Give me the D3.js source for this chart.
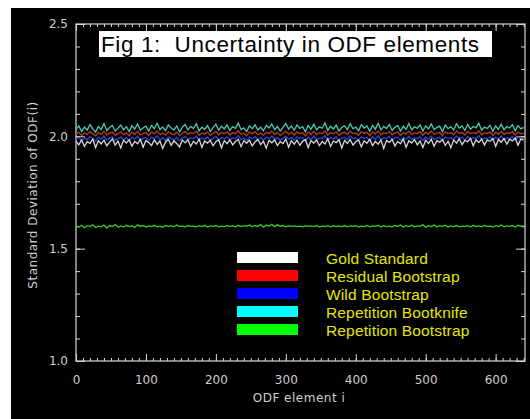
<!DOCTYPE html>
<html lang="en">
<head>
<meta charset="UTF-8" />
<title>Fig 1: Uncertainty in ODF elements</title>
<script src="https://d3js.org/d3.v7.min.js"></script>
<style>
  body { margin: 0; background: #fff; }
  svg { display: block; }
  .axis text { fill: #cfcfcf; font-family: "DejaVu Sans", sans-serif; font-size: 12px; }
  .axis line { stroke: #d8d8d8; }
  .axis path { display: none; }
  .series { fill: none; stroke-width: 1.3; }
</style>
</head>
<body>
<svg id="chart" width="530" height="419"></svg>
<script>
// ODF element index step between stored samples
const xStep = 4;

const goldStandard = [
  1.978,1.962,1.984,1.955,1.976,1.969,1.987,1.950,1.980,1.966,1.983,1.958,1.974,1.988,1.961,1.979,1.948,1.982,1.970,1.985,
  1.957,1.977,1.967,1.986,1.952,1.981,1.972,1.959,1.984,1.964,1.979,1.946,1.975,1.987,1.960,1.980,1.968,1.953,1.983,1.971,
  1.985,1.956,1.978,1.966,1.988,1.951,1.979,1.970,1.982,1.958,1.976,1.985,1.949,1.981,1.967,1.984,1.962,1.977,1.987,1.954,
  1.980,1.969,1.983,1.957,1.975,1.986,1.963,1.978,1.947,1.982,1.971,1.985,1.959,1.976,1.968,1.988,1.952,1.980,1.965,1.983,
  1.960,1.978,1.986,1.950,1.981,1.970,1.984,1.958,1.977,1.966,1.989,1.955,1.979,1.972,1.985,1.948,1.982,1.968,1.986,1.961,
  1.976,1.984,1.953,1.980,1.969,1.987,1.959,1.978,1.965,1.983,1.946,1.981,1.973,1.986,1.957,1.977,1.967,1.988,1.951,1.980,
  1.971,1.985,1.962,1.979,1.950,1.983,1.968,1.987,1.956,1.981,1.974,1.986,1.960,1.978,1.949,1.984,1.970,1.989,1.963,1.982,
  1.976,1.990,1.958,1.985,1.972,1.988,1.961,1.984,1.978,1.991,1.955,1.986,1.974,1.990,1.965,1.987,1.980,1.993,1.960,1.988,
  1.983
];
const residualBootstrap = [
  2.010,2.018,2.004,2.015,2.008,2.021,2.012,2.002,2.017,2.009,2.023,2.006,2.014,2.019,2.005,2.011,2.020,2.007,2.016,2.003,
  2.018,2.010,2.022,2.006,2.013,2.017,2.004,2.019,2.011,2.024,2.008,2.015,2.005,2.020,2.012,2.007,2.018,2.003,2.014,2.021,
  2.009,2.016,2.012,2.023,2.005,2.015,2.010,2.019,2.004,2.013,2.022,2.007,2.017,2.011,2.020,2.006,2.016,2.012,2.025,2.009,
  2.014,2.003,2.019,2.011,2.021,2.007,2.015,2.005,2.018,2.012,2.023,2.009,2.017,2.004,2.014,2.022,2.010,2.018,2.006,2.020,
  2.012,2.016,2.002,2.019,2.009,2.022,2.008,2.015,2.012,2.024,2.006,2.017,2.011,2.020,2.004,2.014,2.018,2.009,2.023,2.012,
  2.015,2.005,2.021,2.013,2.018,2.003,2.019,2.010,2.024,2.007,2.016,2.012,2.022,2.006,2.014,2.019,2.004,2.017,2.010,2.023,
  2.008,2.015,2.012,2.021,2.005,2.018,2.011,2.023,2.009,2.014,2.017,2.003,2.020,2.012,2.016,2.007,2.024,2.013,2.018,2.006,
  2.022,2.011,2.016,2.013,2.025,2.007,2.015,2.012,2.020,2.004,2.018,2.010,2.023,2.008,2.016,2.013,2.021,2.006,2.019,2.011,
  2.014
];
const wildBootstrap = [
  1.988,1.995,1.981,1.993,1.985,1.999,1.990,1.979,1.996,1.987,2.001,1.983,1.992,1.997,1.982,1.989,1.998,1.984,1.994,1.980,
  1.996,1.988,2.000,1.983,1.991,1.995,1.981,1.997,1.989,2.002,1.985,1.993,1.982,1.998,1.990,1.984,1.996,1.980,1.992,1.999,
  1.986,1.994,1.990,2.001,1.982,1.993,1.987,1.997,1.981,1.991,2.000,1.984,1.995,1.989,1.998,1.983,1.994,1.990,2.003,1.986,
  1.992,1.980,1.997,1.989,1.999,1.984,1.993,1.982,1.996,1.990,2.001,1.986,1.995,1.981,1.992,2.000,1.988,1.996,1.983,1.998,
  1.990,1.994,1.979,1.997,1.986,2.000,1.985,1.993,1.990,2.002,1.983,1.995,1.988,1.998,1.981,1.992,1.996,1.986,2.001,1.990,
  1.993,1.982,1.999,1.991,1.996,1.980,1.997,1.987,2.002,1.984,1.994,1.990,2.000,1.983,1.992,1.997,1.981,1.995,1.987,2.001,
  1.985,1.993,1.990,1.999,1.982,1.996,1.988,2.001,1.986,1.992,1.995,1.980,1.998,1.990,1.994,1.984,2.002,1.991,1.996,1.983,
  2.000,1.988,1.994,1.991,2.003,1.984,1.993,1.989,1.998,1.981,1.996,1.987,2.001,1.985,1.994,1.990,1.999,1.983,1.997,1.988,
  1.991
];
const repetitionBootknife = [
  2.031,2.046,2.022,2.041,2.028,2.052,2.033,2.019,2.044,2.030,2.057,2.026,2.039,2.048,2.024,2.036,2.050,2.029,2.043,2.021,
  2.047,2.032,2.055,2.027,2.038,2.045,2.023,2.049,2.034,2.058,2.030,2.042,2.025,2.051,2.037,2.028,2.046,2.020,2.040,2.053,
  2.029,2.044,2.035,2.056,2.024,2.041,2.031,2.048,2.022,2.039,2.054,2.027,2.045,2.033,2.050,2.026,2.043,2.036,2.059,2.030,
  2.038,2.021,2.047,2.034,2.052,2.028,2.041,2.025,2.049,2.037,2.055,2.030,2.044,2.023,2.040,2.057,2.032,2.046,2.027,2.051,
  2.035,2.043,2.020,2.048,2.031,2.054,2.029,2.042,2.036,2.060,2.026,2.045,2.033,2.050,2.024,2.039,2.047,2.030,2.056,2.034,
  2.041,2.025,2.052,2.037,2.046,2.022,2.049,2.032,2.058,2.028,2.044,2.035,2.053,2.027,2.040,2.048,2.023,2.045,2.031,2.057,
  2.029,2.042,2.036,2.051,2.024,2.047,2.033,2.055,2.030,2.039,2.045,2.021,2.050,2.034,2.043,2.028,2.056,2.037,2.046,2.026,
  2.053,2.032,2.044,2.038,2.058,2.027,2.041,2.035,2.049,2.022,2.046,2.031,2.054,2.029,2.043,2.037,2.052,2.025,2.048,2.033,
  2.040
];
const repetitionBootstrap = [
  1.601,1.596,1.604,1.593,1.602,1.598,1.606,1.594,1.600,1.597,1.605,1.592,1.603,1.599,1.607,1.595,1.601,1.596,1.604,1.598,
  1.602,1.594,1.606,1.599,1.603,1.596,1.601,1.598,1.604,1.597,1.600,1.595,1.603,1.599,1.602,1.597,1.605,1.598,1.601,1.596,
  1.603,1.599,1.600,1.597,1.602,1.598,1.604,1.596,1.601,1.599,1.603,1.597,1.600,1.598,1.602,1.599,1.601,1.597,1.604,1.598,
  1.602,1.600,1.605,1.597,1.603,1.599,1.607,1.596,1.604,1.601,1.608,1.598,1.606,1.600,1.603,1.597,1.602,1.599,1.601,1.598,
  1.600,1.597,1.602,1.599,1.601,1.598,1.603,1.596,1.600,1.598,1.602,1.597,1.601,1.599,1.600,1.598,1.603,1.597,1.601,1.599,
  1.602,1.596,1.600,1.598,1.603,1.597,1.601,1.599,1.604,1.596,1.602,1.598,1.600,1.597,1.603,1.599,1.605,1.596,1.602,1.598,
  1.604,1.597,1.601,1.599,1.606,1.595,1.603,1.598,1.605,1.597,1.602,1.599,1.604,1.596,1.601,1.598,1.603,1.597,1.600,1.599,
  1.602,1.596,1.604,1.598,1.601,1.597,1.603,1.599,1.600,1.596,1.602,1.598,1.605,1.597,1.601,1.599,1.603,1.596,1.604,1.600,
  1.601
];

const legendLabels = ["Gold Standard", "Residual Bootstrap", "Wild Bootstrap", "Repetition Bootknife", "Repetition Bootstrap"];
const xTicks = [0, 100, 200, 300, 400, 500, 600];
const yTicks = [1.0, 1.5, 2.0, 2.5];

const svg = d3.select("#chart");
const plotL = 76, plotR = 525, plotT = 24, plotB = 361;

// black panel (white strip at left/top like the scanned figure)
svg.append("rect").attr("x", 11).attr("y", 8).attr("width", 519).attr("height", 411).attr("fill", "#000");

const x = d3.scaleLinear().domain([0, 642]).range([plotL, plotR]);
const y = d3.scaleLinear().domain([1.0, 2.5]).range([plotB, plotT]);

const minorY = d3.range(10, 26).map(v => v / 10);
const minorX = d3.range(0, 641, 10);

// axes
svg.append("g").attr("class", "axis").attr("transform", `translate(${plotL},0)`)
  .call(d3.axisLeft(y).tickValues(minorY).tickSize(-4).tickFormat(""));
svg.append("g").attr("class", "axis").attr("transform", `translate(${plotL},0)`)
  .call(d3.axisLeft(y).tickValues(yTicks).tickSize(-9).tickPadding(8).tickFormat(d3.format(".1f")));
svg.append("g").attr("class", "axis").attr("transform", `translate(${plotR},0)`)
  .call(d3.axisRight(y).tickValues(minorY).tickSize(-4).tickFormat(""));
svg.append("g").attr("class", "axis").attr("transform", `translate(${plotR},0)`)
  .call(d3.axisRight(y).tickValues(yTicks).tickSize(-9).tickFormat(""));
svg.append("g").attr("class", "axis").attr("transform", `translate(0,${plotB})`)
  .call(d3.axisBottom(x).tickValues(minorX).tickSize(-3).tickFormat(""));
svg.append("g").attr("class", "axis").attr("transform", `translate(0,${plotB})`)
  .call(d3.axisBottom(x).tickValues(xTicks).tickSize(-7).tickPadding(14).tickFormat(d3.format("d")));
svg.append("g").attr("class", "axis").attr("transform", `translate(0,${plotT})`)
  .call(d3.axisTop(x).tickValues(minorX).tickSize(-3).tickFormat(""));
svg.append("g").attr("class", "axis").attr("transform", `translate(0,${plotT})`)
  .call(d3.axisTop(x).tickValues(xTicks).tickSize(-7).tickFormat(""));

svg.append("rect").attr("x", plotL).attr("y", plotT)
  .attr("width", plotR - plotL).attr("height", plotB - plotT)
  .attr("fill", "none").attr("stroke", "#d8d8d8").attr("stroke-width", 1.2);

// axis titles
svg.append("text").attr("x", 299).attr("y", 402).attr("text-anchor", "middle")
  .attr("fill", "#cfcfcf").attr("font-family", "DejaVu Sans, sans-serif").attr("font-size", 12)
  .attr("letter-spacing", 0.5).text("ODF element i");
svg.append("text").attr("transform", "translate(37,195) rotate(-90)").attr("text-anchor", "middle")
  .attr("fill", "#cfcfcf").attr("font-family", "DejaVu Sans, sans-serif").attr("font-size", 12)
  .attr("letter-spacing", 0.5).text("Standard Deviation of ODF(i)");

// series
const line = d3.line().x((d, i) => x(i * xStep)).y(d => y(d));
const series = [
  { data: repetitionBootstrap, color: "#3cc82a" },
  { data: repetitionBootknife, color: "#4cc8b8" },
  { data: residualBootstrap, color: "#c23a1e" },
  { data: wildBootstrap, color: "#2848e0" },
  { data: goldStandard, color: "#d8d8d8" }
];
svg.selectAll(".series").data(series).join("path")
  .attr("class", "series")
  .attr("d", d => line(d.data))
  .attr("stroke", d => d.color);

// title box
svg.append("rect").attr("x", 99).attr("y", 31).attr("width", 393).attr("height", 26).attr("fill", "#fff");
svg.append("text").attr("x", 101).attr("y", 52)
  .attr("font-family", "Liberation Sans, Arial, sans-serif").attr("font-size", 22.5).attr("fill", "#000")
  .attr("letter-spacing", 0.6)
  .style("white-space", "pre").text("Fig 1:  Uncertainty in ODF elements");

// legend
const legendColors = ["#ffffff", "#ff0000", "#0000ff", "#00ffff", "#00ff00"];
const legend = svg.selectAll(".legend").data(legendLabels).join("g")
  .attr("class", "legend")
  .attr("transform", (d, i) => `translate(237,${252 + i * 18})`);
legend.append("rect").attr("width", 61).attr("height", 11).attr("fill", (d, i) => legendColors[i]);
legend.append("text").attr("x", 89).attr("y", 12)
  .attr("font-family", "Liberation Sans, Arial, sans-serif").attr("font-size", 15.5)
  .attr("letter-spacing", 0.15)
  .attr("fill", "#e6e600").text(d => d);
</script>
</body>
</html>
